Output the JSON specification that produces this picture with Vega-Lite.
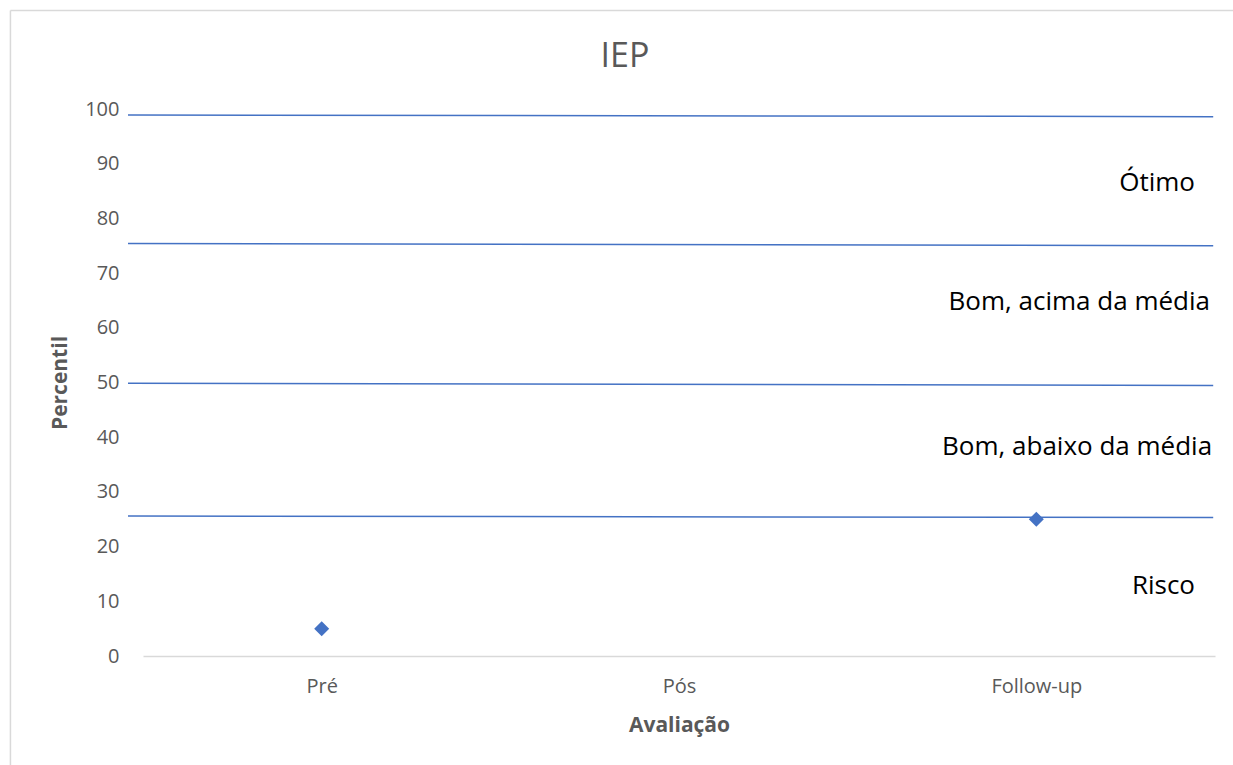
{
  "$schema": "https://vega.github.io/schema/vega-lite/v6.json",
  "width": 1072,
  "height": 547,
  "autosize": {"type": "none"},
  "padding": {"left": 143, "top": 109, "right": 18, "bottom": 109},
  "background": "white",
  "config": {"view": {"stroke": null}, "font": "Open Sans"},
  "title": {
    "text": "IEP",
    "fontSize": 34,
    "font": "Open Sans",
    "fontWeight": "normal",
    "color": "#595959",
    "anchor": "middle",
    "baseline": "alphabetic",
    "offset": -91,
    "dx": -54
  },
  "datasets": {
    "scores": [
      {"avaliacao": "Pré", "percentil": 5},
      {"avaliacao": "Pós", "percentil": null},
      {"avaliacao": "Follow-up", "percentil": 25}
    ],
    "faixas": [
      {"linha": "A", "pos": -0.042, "percentil": 98.9},
      {"linha": "A", "pos": 2.995, "percentil": 98.6},
      {"linha": "B", "pos": -0.042, "percentil": 75.4},
      {"linha": "B", "pos": 2.995, "percentil": 75.0},
      {"linha": "C", "pos": -0.042, "percentil": 49.85},
      {"linha": "C", "pos": 2.995, "percentil": 49.45},
      {"linha": "D", "pos": -0.042, "percentil": 25.6},
      {"linha": "D", "pos": 2.995, "percentil": 25.3}
    ],
    "rotulos": [
      {"rotulo": "Ótimo", "pos": 2.944, "percentil": 86.5},
      {"rotulo": "Bom, acima da média", "pos": 2.986, "percentil": 64.7},
      {"rotulo": "Bom, abaixo da média", "pos": 2.992, "percentil": 38.2},
      {"rotulo": "Risco", "pos": 2.944, "percentil": 12.85}
    ]
  },
  "layer": [
    {
      "data": {"values": [{}]},
      "mark": {"type": "rule", "color": "#d9d9d9", "strokeWidth": 1.5, "clip": false},
      "encoding": {
        "x": {"datum": -0.371, "type": "quantitative", "scale": {"domain": [0, 3], "nice": false, "zero": false}, "axis": null},
        "x2": {"datum": 3.6},
        "y": {"datum": 118, "type": "quantitative", "scale": {"domain": [0, 100], "nice": false}}
      }
    },
    {
      "data": {"values": [{}]},
      "mark": {"type": "rule", "color": "#d9d9d9", "strokeWidth": 1.5, "clip": false},
      "encoding": {
        "x": {"datum": -0.371, "type": "quantitative", "scale": {"domain": [0, 3], "nice": false, "zero": false}, "axis": null},
        "y": {"datum": 118, "type": "quantitative", "scale": {"domain": [0, 100], "nice": false}},
        "y2": {"datum": -40}
      }
    },
    {
      "data": {"name": "faixas"},
      "mark": {"type": "line", "color": "#4472C4", "strokeWidth": 1.5, "clip": false},
      "encoding": {
        "x": {"field": "pos", "type": "quantitative", "scale": {"domain": [0, 3], "nice": false, "zero": false}, "axis": null},
        "y": {"field": "percentil", "type": "quantitative", "scale": {"domain": [0, 100], "nice": false}},
        "detail": {"field": "linha"}
      }
    },
    {
      "data": {"name": "rotulos"},
      "mark": {"type": "text", "align": "right", "baseline": "middle", "fontSize": 26, "font": "Open Sans", "color": "#000000", "clip": false},
      "encoding": {
        "x": {"field": "pos", "type": "quantitative", "scale": {"domain": [0, 3], "nice": false, "zero": false}, "axis": null},
        "y": {"field": "percentil", "type": "quantitative"},
        "text": {"field": "rotulo"}
      }
    },
    {
      "data": {"name": "scores"},
      "mark": {"type": "point", "shape": "diamond", "filled": true, "size": 225, "color": "#4472C4", "opacity": 1},
      "encoding": {
        "x": {
          "field": "avaliacao",
          "type": "ordinal",
          "sort": null,
          "scale": {"type": "point", "padding": 0.5, "domain": ["Pré", "Pós", "Follow-up"]},
          "axis": {
            "title": "Avaliação",
            "titleFontSize": 21,
            "titleFontWeight": "bold",
            "titleColor": "#595959",
            "titleFont": "Open Sans",
            "titlePadding": 18,
            "labelFontSize": 20,
            "labelColor": "#595959",
            "labelFont": "Open Sans",
            "labelAngle": 0,
            "labelPadding": 20,
            "ticks": false,
            "grid": false,
            "domainColor": "#d9d9d9",
            "domainWidth": 1.5
          }
        },
        "y": {
          "field": "percentil",
          "type": "quantitative",
          "axis": {
            "title": "Percentil",
            "titleFontSize": 21,
            "titleFontWeight": "bold",
            "titleColor": "#595959",
            "titleFont": "Open Sans",
            "titlePadding": 14,
            "labelFontSize": 20,
            "labelColor": "#595959",
            "labelFont": "Open Sans",
            "labelPadding": 24,
            "values": [0, 10, 20, 30, 40, 50, 60, 70, 80, 90, 100],
            "ticks": false,
            "domain": false,
            "grid": false
          }
        }
      }
    }
  ],
  "resolve": {"scale": {"x": "independent"}, "axis": {"x": "independent"}}
}
